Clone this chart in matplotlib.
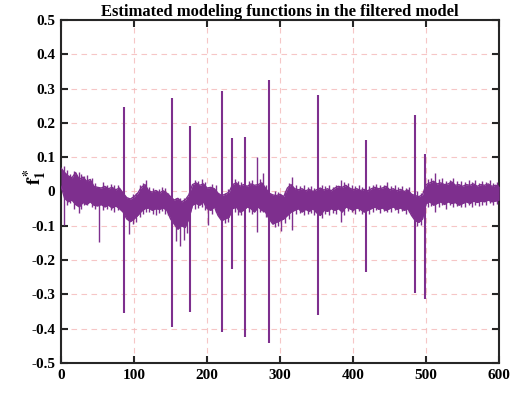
import numpy as np
import matplotlib
matplotlib.use("Agg")
import matplotlib.pyplot as plt
import matplotlib.ticker as mticker

plt.rcParams.update({
    "font.family":      "Liberation Serif",
    "font.weight":      "bold",
    "font.size":        11,
    "mathtext.fontset": "stix",
    "axes.linewidth":   1.5,
})

PURPLE = "#7E2F8E"

x_env = list(range(0, 601, 5))
hi = [0.068, 0.055, 0.045, 0.040, 0.055, 0.035, 0.042, 0.030, 0.035, 0.015,
      0.012, 0.010, 0.015, 0.008, 0.012, 0.005, 0.010, -0.005, -0.018, -0.022,
      -0.015, -0.005, 0.012, 0.020, 0.002, -0.002, 0.003, -0.004, 0.002, -0.005,
      -0.015, -0.025, -0.020, -0.030, -0.025, -0.010, 0.020, 0.025, 0.018, 0.022,
      0.010, 0.012, 0.008, -0.005, -0.012, -0.008, -0.002, 0.020, 0.025, 0.015,
      0.020, 0.015, 0.022, 0.018, 0.020, 0.025, 0.010, -0.005, -0.010, -0.012,
      -0.008, -0.015, 0.010, 0.020, 0.008, 0.005, 0.008, 0.002, 0.006, 0.000,
      0.005, 0.010, 0.004, 0.008, 0.002, 0.010, 0.015, 0.012, 0.018, 0.010,
      0.005, 0.008, 0.003, 0.006, 0.002, 0.008, 0.012, 0.008, 0.010, 0.015,
      0.005, 0.008, 0.002, 0.006, 0.000, 0.004, -0.008, -0.012, -0.015, -0.010,
      0.020, 0.025, 0.030, 0.022, 0.025, 0.020, 0.022, 0.028, 0.018, 0.020,
      0.015, 0.020, 0.018, 0.022, 0.015, 0.020, 0.018, 0.022, 0.015, 0.018,
      0.015]
lo = [0.015, -0.020, -0.030, -0.025, -0.038, -0.045, -0.032, -0.038, -0.030, -0.040,
      -0.042, -0.038, -0.045, -0.040, -0.048, -0.042, -0.050, -0.060, -0.080, -0.088,
      -0.080, -0.070, -0.058, -0.050, -0.048, -0.055, -0.050, -0.052, -0.048, -0.055,
      -0.080, -0.095, -0.110, -0.100, -0.105, -0.080, -0.040, -0.035, -0.040, -0.030,
      -0.050, -0.055, -0.045, -0.070, -0.085, -0.080, -0.075, -0.050, -0.045, -0.060,
      -0.055, -0.045, -0.050, -0.060, -0.045, -0.055, -0.060, -0.080, -0.095, -0.090,
      -0.085, -0.080, -0.070, -0.060, -0.055, -0.050, -0.060, -0.052, -0.058, -0.050,
      -0.062, -0.070, -0.055, -0.058, -0.050, -0.055, -0.050, -0.060, -0.045, -0.050,
      -0.055, -0.048, -0.052, -0.060, -0.055, -0.050, -0.045, -0.052, -0.048, -0.055,
      -0.050, -0.045, -0.052, -0.048, -0.055, -0.050, -0.070, -0.085, -0.090, -0.080,
      -0.035, -0.030, -0.040, -0.035, -0.030, -0.038, -0.030, -0.035, -0.032, -0.040,
      -0.035, -0.030, -0.035, -0.028, -0.032, -0.028, -0.030, -0.025, -0.030, -0.028,
      -0.025]

# large spikes: position, peak, trough
spike_x = [86, 152, 176, 220, 234, 252, 285, 352, 417, 485, 498]
spike_top = [0.245, 0.272, 0.190, 0.293, 0.155, 0.158, 0.325, 0.282, 0.150, 0.222, 0.110]
spike_bot = [-0.355, -0.395, -0.350, -0.410, -0.225, -0.425, -0.442, -0.360, -0.235, -0.295, -0.312]

# smaller excursions outside the band
minor_x = [4, 18, 24, 36, 52, 93, 116, 130, 158, 163, 168, 201, 225, 268, 276,
           301, 316, 383, 446, 512, 548]
minor_top = [0.075, 0.060, 0.058, 0.048, 0.012, -0.020, 0.034, 0.000, -0.020, -0.020,
             -0.020, 0.010, -0.005, 0.100, 0.053, -0.010, 0.043, 0.034, 0.028, 0.055, 0.030]
minor_bot = [-0.098, -0.050, -0.062, -0.040, -0.146, -0.125, -0.060, -0.068, -0.145, -0.160,
             -0.140, -0.098, -0.093, -0.117, -0.060, -0.115, -0.112, -0.088, -0.060, -0.060, -0.045]

# noise teeth along the band edges
teeth_x = [8, 12, 28, 31, 42, 47, 58, 63, 68, 73, 78, 98, 103, 108, 112, 121, 126, 134,
           138, 143, 147, 172, 183, 188, 193, 197, 207, 212, 229, 238, 243, 247, 257, 262,
           272, 281, 293, 297, 307, 312, 322, 327, 333, 338, 343, 347, 357, 362, 367, 372,
           377, 388, 393, 398, 403, 408, 412, 422, 427, 432, 437, 442, 452, 457, 462, 467,
           472, 477, 488, 493, 503, 507, 517, 522, 527, 532, 537, 542, 553, 558, 563, 567,
           572, 577, 582, 587, 592, 597]
teeth_top = [0.062, 0.050, 0.050, 0.045, 0.040, 0.025, 0.028, 0.020, 0.022, 0.018, 0.020,
             -0.008, -0.005, 0.020, 0.025, 0.012, 0.010, 0.008, 0.012, 0.010, -0.005, -0.015,
             0.032, 0.030, 0.035, 0.028, 0.022, 0.018, 0.008, 0.035, 0.030, 0.028, 0.030,
             0.032, 0.035, 0.020, 0.000, -0.002, 0.000, 0.025, 0.020, 0.015, 0.020, 0.012,
             0.015, 0.010, 0.020, 0.015, 0.018, 0.012, 0.020, 0.028, 0.025, 0.020, 0.015,
             0.018, 0.012, 0.015, 0.020, 0.022, 0.018, 0.020, 0.015, 0.018, 0.012, 0.016,
             0.010, 0.012, 0.000, -0.005, 0.035, 0.038, 0.035, 0.038, 0.030, 0.034, 0.040,
             0.030, 0.028, 0.032, 0.028, 0.032, 0.025, 0.030, 0.028, 0.032, 0.025, 0.028]
teeth_bot = [-0.040, -0.035, -0.050, -0.040, -0.045, -0.050, -0.055, -0.050, -0.055, -0.060,
             -0.055, -0.095, -0.090, -0.075, -0.065, -0.060, -0.065, -0.062, -0.058, -0.065,
             -0.070, -0.120, -0.050, -0.048, -0.045, -0.055, -0.065, -0.060, -0.088, -0.060,
             -0.070, -0.068, -0.060, -0.065, -0.060, -0.075, -0.105, -0.100, -0.092, -0.080,
             -0.065, -0.062, -0.068, -0.065, -0.062, -0.068, -0.078, -0.065, -0.070, -0.062,
             -0.065, -0.068, -0.058, -0.060, -0.065, -0.058, -0.065, -0.065, -0.060, -0.055,
             -0.062, -0.058, -0.060, -0.055, -0.062, -0.058, -0.065, -0.060, -0.100, -0.098,
             -0.045, -0.042, -0.045, -0.040, -0.050, -0.040, -0.045, -0.042, -0.045, -0.040,
             -0.045, -0.038, -0.042, -0.038, -0.040, -0.035, -0.040, -0.036]

fig = plt.figure(figsize=(5.26, 3.93), dpi=100)
ax = fig.add_axes([0.116, 0.0763, 0.833, 0.873])

ax.fill_between(x_env, lo, hi, color=PURPLE, lw=0, zorder=3)
ax.plot(x_env, hi, color=PURPLE, lw=1.0, zorder=3)
ax.plot(x_env, lo, color=PURPLE, lw=1.0, zorder=3)
ax.vlines(teeth_x, teeth_bot, teeth_top, color=PURPLE, lw=1.0, zorder=3)
ax.vlines(minor_x, minor_bot, minor_top, color=PURPLE, lw=1.0, zorder=3)
ax.vlines(spike_x, spike_bot, spike_top, color=PURPLE, lw=1.5, zorder=3)

ax.set_xlim(0, 600)
ax.set_ylim(-0.5, 0.5)
ax.xaxis.set_major_locator(mticker.MultipleLocator(100))
ax.yaxis.set_major_locator(mticker.MultipleLocator(0.1))
ax.yaxis.set_major_formatter(mticker.FuncFormatter(lambda v, _: f"{round(v, 2):g}"))
ax.tick_params(direction="in", length=5, width=1.5, top=True, right=True,
               colors="#262626", labelcolor="black", pad=4)
for s in ax.spines.values():
    s.set_color("#262626")

ax.grid(True, color="#f4b8b8", lw=0.8, ls=(0, (5, 4)), alpha=0.8)
ax.set_axisbelow(True)

ax.set_title("Estimated modeling functions in the filtered model",
             fontsize=12, fontweight="bold", pad=3)
ax.set_ylabel(r"$\mathbf{f_1^*}$", fontsize=14)
ax.yaxis.set_label_coords(-0.027, 0.545)

fig.savefig("out.png", dpi=100)
